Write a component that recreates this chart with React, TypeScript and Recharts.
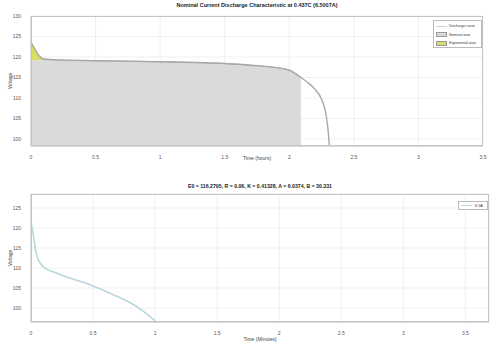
import React from 'react';
import { ComposedChart, Area, Line, XAxis, YAxis, CartesianGrid } from 'recharts';

// ---------- top chart data ----------
const topTimes = [0, 0.01, 0.02, 0.03, 0.045, 0.06, 0.08, 0.1, 0.2, 0.5, 1.0, 1.5, 1.7, 1.9, 2.0, 2.09, 2.15, 2.2, 2.25, 2.28, 2.3, 2.31];
const topVoltage = [123.6, 123.0, 122.4, 121.9, 121.1, 120.4, 119.8, 119.5, 119.3, 119.1, 118.85, 118.4, 118.0, 117.4, 116.8, 115.0, 113.6, 112.1, 109.7, 106.7, 102.3, 98.4];
const nominalEnd = 2.09;
const exponentialEnd = 0.1;
const exponentialBase = 119.3;
const topXTicks = [0, 0.5, 1, 1.5, 2, 2.5, 3, 3.5];
const topYTicks = [100, 105, 110, 115, 120, 125, 130];
const topLegend = ['Discharge curve', 'Nominal area', 'Exponential area'];

// ---------- bottom chart data ----------
const botTimes = [0, 0.02, 0.04, 0.06, 0.08, 0.1, 0.2, 0.3, 0.4, 0.5, 0.6, 0.7, 0.8, 0.9, 1.0];
const botVoltage = [121.5, 118, 114, 112, 111, 110.3, 108.8, 107.6, 106.6, 105.5, 104.2, 102.8, 101.3, 99.3, 96.8];
const botXTicks = [0, 0.5, 1, 1.5, 2, 2.5, 3, 3.5];
const botYTicks = [100, 105, 110, 115, 120, 125];
const botLegend = '6.5A';

const topTitle = 'Nominal Current Discharge Characteristic at 0.437C (6.5007A)';
const botTitle = 'E0 = 116.2795, R = 0.06, K = 0.41328, A = 6.0374, B = 30.331';

const topData = topTimes.map((t, i) => ({
  t,
  v: topVoltage[i],
  nom: t <= nominalEnd ? topVoltage[i] : null,
  exp: t <= exponentialEnd ? topVoltage[i] : null,
}));
const botData = botTimes.map((t, i) => ({ t, v: botVoltage[i] }));

const FONT = 'Liberation Sans, Arial, sans-serif';
const tickStyle = { fontSize: 5, fill: '#555', fontFamily: FONT };

const abs = (s: React.CSSProperties): React.CSSProperties => ({ position: 'absolute', ...s });

export default function App() {
  return (
    <div style={{ position: 'absolute', left: 0, top: 0, width: 494, height: 345, background: '#fff', fontFamily: FONT, overflow: 'hidden' }}>
      {/* top chart */}
      <div style={abs({ left: 0, top: 0 })}>
        <ComposedChart width={494} height={160} data={topData} margin={{ top: 16, right: 11, bottom: 0, left: 0 }}>
          <CartesianGrid stroke="#e6e6e6" strokeWidth={0.6} />
          <XAxis dataKey="t" type="number" domain={[0, 3.5]} ticks={topXTicks} height={14} tick={tickStyle} tickLine={false} axisLine={{ stroke: '#bdbdbd' }} tickMargin={3} interval={0} />
          <YAxis type="number" domain={[98.3, 130]} ticks={topYTicks} width={31} tick={tickStyle} tickLine={false} axisLine={{ stroke: '#bdbdbd' }} tickMargin={4} allowDataOverflow interval={0} />
          <Area dataKey="nom" type="monotone" fill="#dadada" fillOpacity={1} stroke="#9c9c9c" strokeWidth={0.8} isAnimationActive={false} connectNulls={false} />
          <Area dataKey="exp" type="monotone" baseValue={exponentialBase} fill="#d6de63" fillOpacity={1} stroke="#b9c040" strokeWidth={0.6} isAnimationActive={false} connectNulls={false} />
          <Line dataKey="v" type="monotone" stroke="#a8a8a8" strokeWidth={1.4} dot={false} isAnimationActive={false} />
        </ComposedChart>
      </div>
      <div style={abs({ left: 31, top: 16, width: 452, height: 130, border: '0.8px solid #c4c4c4', boxSizing: 'border-box', pointerEvents: 'none' })} />
      <div style={abs({ left: 31, width: 452, top: 2, textAlign: 'center', fontSize: 5.5, fontWeight: 'bold', color: '#222', whiteSpace: 'nowrap' })}>{topTitle}</div>
      <div style={abs({ left: 31, width: 452, top: 155, textAlign: 'center', fontSize: 5, color: '#444' })}>Time (hours)</div>
      <div style={abs({ left: -5, top: 78, width: 30, textAlign: 'center', fontSize: 5, color: '#444', transform: 'rotate(-90deg)' })}>Voltage</div>
      {/* top legend */}
      <div style={abs({ left: 433, top: 20, width: 49, height: 28, background: '#fff', border: '0.8px solid #bbb', boxSizing: 'border-box', fontSize: 3.6, color: '#333' })}>
        {topLegend.map((name, i) => (
          <div key={name} style={{ display: 'flex', alignItems: 'center', height: 8.5, paddingLeft: 2, marginTop: i === 0 ? 1 : 0 }}>
            {i === 0 ? (
              <div style={{ width: 11, height: 0, borderTop: '0.8px solid #cfcfcf', marginRight: 2 }} />
            ) : (
              <div style={{ width: 11, height: 5, background: i === 1 ? '#dadada' : '#d6de63', border: '0.5px solid #999', boxSizing: 'border-box', marginRight: 2 }} />
            )}
            <span style={{ whiteSpace: 'nowrap' }}>{name}</span>
          </div>
        ))}
      </div>

      {/* bottom chart */}
      <div style={abs({ left: 0, top: 180 })}>
        <ComposedChart width={494} height={165} data={botData} margin={{ top: 14, right: 5, bottom: 0, left: 0 }}>
          <CartesianGrid stroke="#e6e6e6" strokeWidth={0.6} />
          <XAxis dataKey="t" type="number" domain={[0, 3.69]} ticks={botXTicks} height={23} tick={tickStyle} tickLine={false} axisLine={{ stroke: '#bdbdbd' }} tickMargin={3} allowDataOverflow interval={0} />
          <YAxis type="number" domain={[96.5, 128.5]} ticks={botYTicks} width={31} tick={tickStyle} tickLine={false} axisLine={{ stroke: '#bdbdbd' }} tickMargin={4} allowDataOverflow interval={0} />
          <Line dataKey="v" type="monotone" stroke="#bcd6de" strokeWidth={1.6} dot={false} isAnimationActive={false} />
        </ComposedChart>
      </div>
      <div style={abs({ left: 31, top: 194, width: 458, height: 128, border: '0.8px solid #c4c4c4', boxSizing: 'border-box', pointerEvents: 'none' })} />
      <div style={abs({ left: 31, width: 458, top: 183, textAlign: 'center', fontSize: 5.2, fontWeight: 'bold', color: '#222', whiteSpace: 'nowrap' })}>{botTitle}</div>
      <div style={abs({ left: 31, width: 458, top: 336, textAlign: 'center', fontSize: 5, color: '#444' })}>Time (Minutes)</div>
      <div style={abs({ left: -5, top: 255, width: 30, textAlign: 'center', fontSize: 5, color: '#444', transform: 'rotate(-90deg)' })}>Voltage</div>
      <div style={abs({ left: 458, top: 201, width: 30, height: 9, background: '#fff', border: '0.8px solid #bbb', boxSizing: 'border-box', fontSize: 3.8, color: '#333', display: 'flex', alignItems: 'center', paddingLeft: 2 })}>
        <div style={{ width: 11, height: 0, borderTop: '1px solid #bcd6de', marginRight: 3 }} />
        <span>{botLegend}</span>
      </div>
    </div>
  );
}
